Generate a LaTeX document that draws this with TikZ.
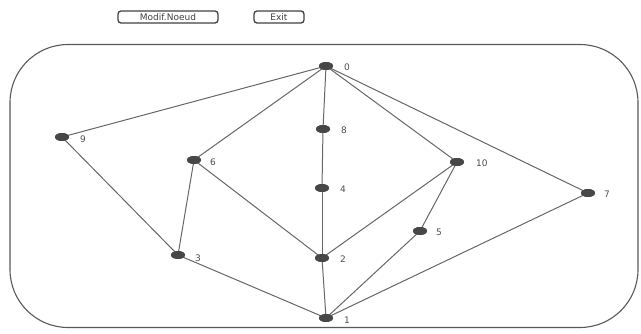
\documentclass[tikz,border=0pt]{standalone}
\usepackage{fontspec}
\setmainfont{DejaVu Sans}
\usetikzlibrary{shapes.geometric}
\begin{document}
\begin{tikzpicture}[x=1pt,y=-1pt,
  vtx/.style={ellipse,fill=black!72,minimum width=14pt,minimum height=8pt,inner sep=0pt},
  lbl/.style={font=\fontsize{9}{9}\selectfont,text=black!70,anchor=west,inner sep=0pt},
  edge/.style={draw=black!60,line width=1pt},
  btn/.style={draw=black!75,line width=1.3pt,rounded corners=3pt,font=\fontsize{9}{9}\selectfont,text=black!75,minimum height=12pt,inner xsep=3pt,inner ysep=1pt}]
\useasboundingbox (0,0) rectangle (641,333);
\node[draw=black!65,line width=1.1pt,rounded corners=58pt,minimum width=628pt,minimum height=283pt,inner sep=0pt] (frame) at (324,186) {};
\node[btn,minimum width=100pt] (modif) at (168,17) {Modif.Noeud};
\node[btn,minimum width=50pt] (exit) at (279,17) {Exit};
\node[vtx] (n0) at (326,66) {};
\node[vtx] (n8) at (323,129) {};
\node[vtx] (n4) at (322,188) {};
\node[vtx] (n2) at (322,258) {};
\node[vtx] (n1) at (326,318) {};
\node[vtx] (n9) at (62,137) {};
\node[vtx] (n6) at (194,160) {};
\node[vtx] (n3) at (178,255) {};
\node[vtx] (n10) at (457,162) {};
\node[vtx] (n5) at (420,231) {};
\node[vtx] (n7) at (588,193) {};
\node[lbl] (l0) at (344,67) {0};
\node[lbl] (l8) at (341,130) {8};
\node[lbl] (l4) at (340,189) {4};
\node[lbl] (l2) at (340,259) {2};
\node[lbl] (l1) at (344,320) {1};
\node[lbl] (l9) at (80,139) {9};
\node[lbl] (l6) at (210,162) {6};
\node[lbl] (l3) at (195,258) {3};
\node[lbl] (l10) at (476,163) {10};
\node[lbl] (l5) at (436,232) {5};
\node[lbl] (l7) at (604,194) {7};
\foreach \a/\b in {n0/n9,n0/n6,n0/n8,n0/n10,n0/n7,n8/n4,n4/n2,n2/n1,n6/n2,n6/n3,n9/n3,n3/n1,n10/n2,n10/n5,n5/n1,n7/n1}
  \draw[edge] (\a.center) -- (\b.center);
\foreach \n in {n0,n8,n4,n2,n1,n9,n6,n3,n10,n5,n7}
  \node[vtx] at (\n) {};
\end{tikzpicture}
\end{document}
